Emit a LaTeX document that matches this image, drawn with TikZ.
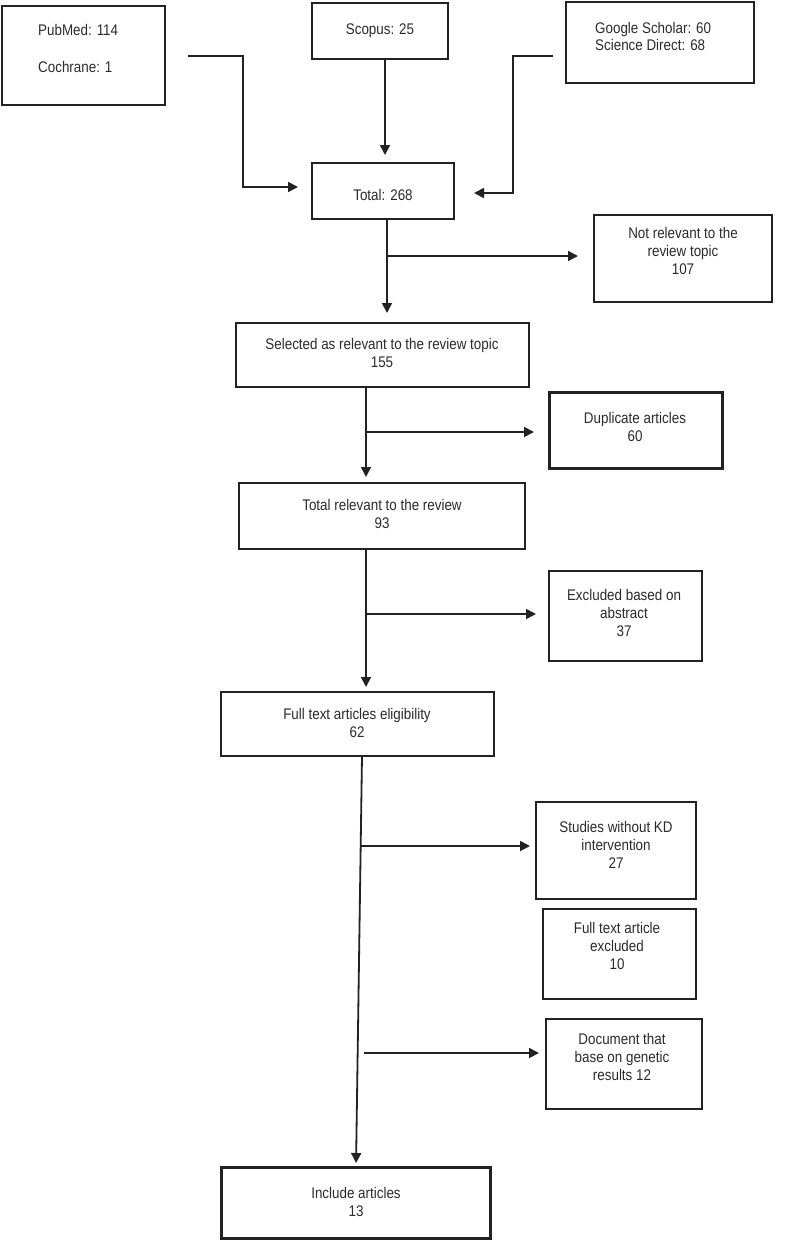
\documentclass[tikz,border=0pt]{standalone}
\usepackage{fontspec}
\setmainfont{Liberation Sans}[FakeStretch=0.87]
\usetikzlibrary{arrows.meta,calc}
\definecolor{ink}{HTML}{222222}
\definecolor{txt}{HTML}{2A2A2A}
\tikzset{
  box/.style={draw=ink, line width=2pt, rectangle, inner sep=0pt, outer sep=0pt},
  thickbox/.style={box, line width=3pt},
  lbl/.style={text=txt, inner sep=0pt, font=\fontsize{15.4}{18}\selectfont, align=center},
  arr/.style={draw=ink, line width=1.8pt, -{Triangle[length=10pt,width=10pt]}},
  ln/.style={draw=ink, line width=1.8pt}
}
\begin{document}
\begin{tikzpicture}[x=1pt,y=-1pt]
\useasboundingbox (0,0) rectangle (790,1240);
% boxes
\node[box, minimum width=163pt, minimum height=99pt] (pub) at (83.5,55.5) {};
\node[box, minimum width=136pt, minimum height=56pt] (scop) at (380,31) {};
\node[box, minimum width=188pt, minimum height=81pt] (goog) at (660,42.5) {};
\node[box, minimum width=142pt, minimum height=56pt] (total) at (383,191) {};
\node[box, minimum width=178pt, minimum height=87pt] (notrel) at (683,258.5) {};
\node[box, minimum width=293pt, minimum height=64pt] (sel) at (382.5,355) {};
\node[thickbox, minimum width=173pt, minimum height=76pt] (dup) at (635.5,430) {};
\node[box, minimum width=286pt, minimum height=66pt] (totrel) at (382,516) {};
\node[box, minimum width=153pt, minimum height=90pt] (exab) at (625.5,616) {};
\node[box, minimum width=273pt, minimum height=64pt] (full) at (357.5,724) {};
\node[box, minimum width=160pt, minimum height=97pt] (stud) at (616,850.5) {};
\node[box, minimum width=153pt, minimum height=90pt] (ftex) at (619.5,954) {};
\node[box, minimum width=156pt, minimum height=90pt] (doc) at (624,1064) {};
\node[thickbox, minimum width=269pt, minimum height=71pt] (incl) at (355.5,1202.5) {};
% texts
\node[lbl, align=left, anchor=west] (tpub) at (38,48.5) {PubMed: 114\\[19pt]Cochrane: 1};
\node[lbl] (tscop) at (380,31) {Scopus: 25};
\node[lbl, align=left, anchor=west, font=\fontsize{15.4}{17}\selectfont] (tgoog) at (595,36.5) {Google Scholar: 60\\Science Direct: 68};
\node[lbl] (ttotal) at (383,195) {Total: 268};
\node[lbl] (tnotrel) at (683,251) {Not relevant to the\\review topic\\107};
\node[lbl] (tsel) at (382,353) {Selected as relevant to the review topic\\155};
\node[lbl] (tdup) at (635,427) {Duplicate articles\\60};
\node[lbl] (ttotrel) at (382,513.5) {Total relevant to the review\\93};
\node[lbl] (texab) at (624,612.5) {Excluded based on\\abstract\\37};
\node[lbl] (tfull) at (357,722.5) {Full text articles eligibility\\62};
\node[lbl] (tstud) at (616,844.5) {Studies without KD\\intervention\\27};
\node[lbl] (tftex) at (617,945.5) {Full text article\\excluded\\10};
\node[lbl] (tdoc) at (622,1056.5) {Document that\\base on genetic\\results 12};
\node[lbl] (tincl) at (356,1202) {Include articles\\13};
% free ends / branch points
\coordinate (pubout) at (188,56);
\coordinate (googout) at (553,56);
\coordinate (b1) at (387,256);
\coordinate (b2) at (366,432);
\coordinate (b3) at (366,614);
\coordinate (b4) at (361,846);
\coordinate (b5) at (364,1053);
% connectors
\draw[arr] (pubout) -- (243,56) |- ([xshift=-14pt,yshift=4pt]total.west);
\draw[arr, shorten >=8pt] ([xshift=5pt]scop.south) -- ([xshift=2pt]total.north);
\draw[arr] (googout) -- (513,56) |- ([xshift=20pt,yshift=-2pt]total.east);
\draw[arr, shorten >=10pt] ([xshift=4pt]total.south) -- ([xshift=4pt]total.south |- sel.north);
\draw[arr, shorten >=16pt] (b1) -- (b1 -| notrel.west);
\draw[arr, shorten >=6pt] ([xshift=-16.5pt]sel.south) -- ([xshift=-16.5pt]sel.south |- totrel.north);
\draw[arr, shorten >=15pt] (b2) -- (b2 -| dup.west);
\draw[arr, shorten >=5pt] ([xshift=-16pt]totrel.south) -- ([xshift=-16pt]totrel.south |- full.north);
\draw[arr, shorten >=13pt] (b3) -- (b3 -| exab.west);
\draw[arr, shorten >=4pt] ([xshift=4.5pt]full.south) -- ([xshift=0.5pt]incl.north);
\draw[arr, shorten >=6pt] (b4) -- (b4 -| stud.west);
\draw[arr, shorten >=7pt] (b5) -- (b5 -| doc.west);
\end{tikzpicture}
\end{document}
